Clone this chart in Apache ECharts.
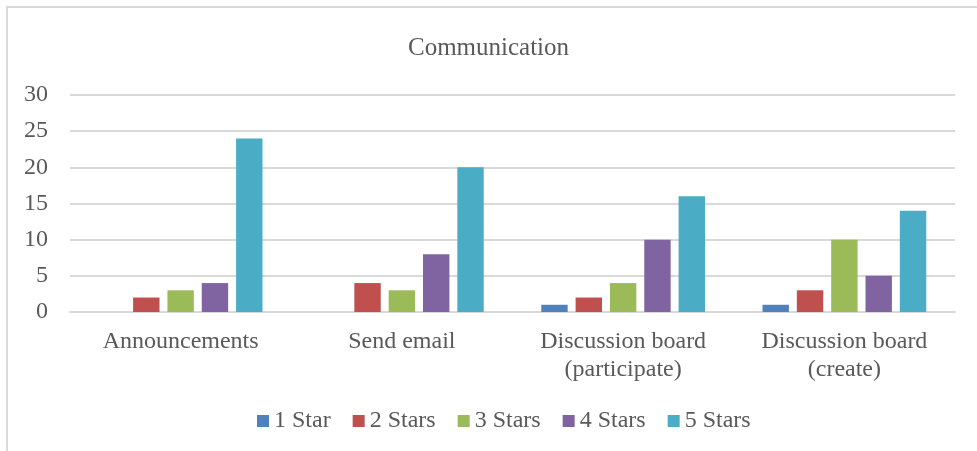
<!DOCTYPE html>
<html>
<head>
<meta charset="utf-8">
<script src="https://cdn.jsdelivr.net/npm/echarts@6/dist/echarts.min.js"></script>
<style>
  html, body { margin: 0; padding: 0; background: #fff; }
  #main { width: 977px; height: 451px; }
</style>
</head>
<body>
<div id="main"></div>
<script>
var categories = ['Announcements', 'Send email', 'Discussion board\n(participate)', 'Discussion board\n(create)'];
var seriesNames = ['1 Star', '2 Stars', '3 Stars', '4 Stars', '5 Stars'];
var star1 = [0, 0, 1, 1];
var star2 = [2, 4, 2, 3];
var star3 = [3, 3, 4, 10];
var star4 = [4, 8, 10, 5];
var star5 = [24, 20, 16, 14];
var colors = ['#4F81BD', '#C0504D', '#9BBB59', '#8064A2', '#4BACC6'];

var font = '"Liberation Serif", "Times New Roman", serif';
var chart = echarts.init(document.getElementById('main'));

var allData = [star1, star2, star3, star4, star5];
var seriesArr = [];
for (var i = 0; i < seriesNames.length; i++) {
    seriesArr.push({
        name: seriesNames[i],
        type: 'bar',
        data: allData[i],
        barGap: '30%',
        barCategoryGap: '26%',
        itemStyle: { color: colors[i] }
    });
}

var option = {
    animation: false,
    backgroundColor: '#fff',
    color: colors,
    title: {
        text: 'Communication',
        left: 'center',
        top: 31,
        textStyle: { fontFamily: font, fontSize: 25, fontWeight: 'normal', color: '#595959' }
    },
    legend: {
        data: seriesNames,
        bottom: 13,
        left: 252,
        icon: 'rect',
        itemWidth: 12,
        itemHeight: 12,
        itemGap: 22,
        textStyle: { fontFamily: font, fontSize: 24, color: '#595959' }
    },
    grid: { left: 70, right: 22, top: 95, bottom: 139, containLabel: false },
    xAxis: {
        type: 'category',
        data: categories,
        axisLine: { lineStyle: { color: '#d9d9d9', width: 2 } },
        axisTick: { show: false },
        axisLabel: { fontFamily: font, fontSize: 24, color: '#595959', margin: 16, lineHeight: 28, interval: 0 }
    },
    yAxis: {
        type: 'value',
        min: 0,
        max: 30,
        interval: 5,
        axisLine: { show: false },
        axisTick: { show: false },
        splitLine: { lineStyle: { color: '#d9d9d9', width: 2 } },
        axisLabel: { fontFamily: font, fontSize: 24, color: '#595959', margin: 22 }
    },
    graphic: [{
        type: 'rect',
        shape: { x: 7, y: 7, width: 1000, height: 500 },
        style: { fill: 'none', stroke: '#d9d9d9', lineWidth: 2 },
        silent: true,
        z: -1
    }],
    series: seriesArr
};
chart.setOption(option);
</script>
</body>
</html>
